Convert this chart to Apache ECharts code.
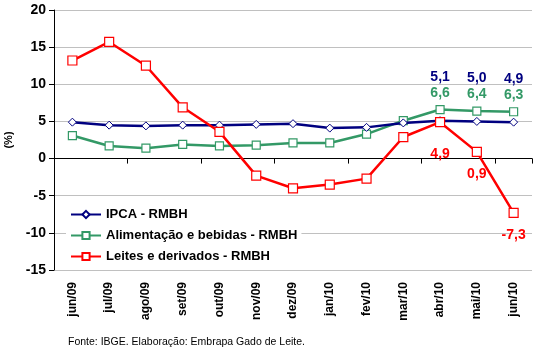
<!DOCTYPE html>
<html>
<head>
<meta charset="utf-8">
<script src="https://cdn.jsdelivr.net/npm/echarts@6/dist/echarts.min.js"></script>
<style>
  html, body { margin: 0; padding: 0; background: #fff; }
  #chart { width: 537px; height: 351px; }
</style>
</head>
<body>
<div id="chart"></div>
<script>
// meses
const categories = ['jun/09', 'jul/09', 'ago/09', 'set/09', 'out/09', 'nov/09', 'dez/09',
  'jan/10', 'fev/10', 'mar/10', 'abr/10', 'mai/10', 'jun/10'];

// valores (%)
const ipca = [4.9, 4.5, 4.4, 4.5, 4.5, 4.6, 4.7, 4.1, 4.2, 4.8, 5.1, 5.0, 4.9];
const alimentacao = [3.1, 1.7, 1.4, 1.9, 1.7, 1.8, 2.1, 2.1, 3.3, 5.1, 6.6, 6.4, 6.3];
const leites = [13.2, 15.7, 12.5, 6.9, 3.6, -2.3, -4.0, -3.5, -2.7, 2.9, 4.9, 0.9, -7.3];

const yTicks = [-15, -10, -5, 0, 5, 10, 15, 20];

const fmt = p => p.value.toFixed(1).replace('.', ',');
const font = 'Liberation Sans, Arial, sans-serif';

// rótulos só nos três últimos meses
function withLabels(values, color, position, distances) {
  const n = values.length;
  return values.map((v, i) => {
    const k = i - (n - 3);
    if (k < 0) return v;
    return {
      value: v,
      label: {
        show: true, position: position, distance: distances[k],
        formatter: fmt, color: color, fontSize: 14, fontWeight: 'bold', fontFamily: font
      }
    };
  });
}

const chart = echarts.init(document.getElementById('chart'));

const option = {
  animation: false,
  textStyle: { fontFamily: font },
  grid: { left: 54, right: 5, top: 10, bottom: 81, outerBoundsMode: 'none' },
  legend: {
    orient: 'vertical',
    left: 66,
    top: 206,
    backgroundColor: '#fff',
    padding: [2, 4],
    itemWidth: 30,
    itemHeight: 9,
    itemGap: 8,
    textStyle: { fontSize: 13, fontWeight: 'bold', color: '#000', fontFamily: font },
    data: ['IPCA - RMBH', 'Alimentação e bebidas - RMBH', 'Leites e derivados - RMBH']
  },
  xAxis: [
    {
      type: 'category',
      data: categories,
      position: 'bottom',
      axisLine: { show: false, onZero: false },
      axisTick: { show: false },
      axisLabel: { rotate: 90, margin: 12, fontSize: 12, fontWeight: 'bold', color: '#000', fontFamily: font }
    },
    {
      type: 'category',
      data: categories,
      position: 'bottom',
      axisLine: { show: true, onZero: true, lineStyle: { color: '#000', width: 1 } },
      axisTick: { show: true, length: 5, lineStyle: { color: '#000' } },
      axisLabel: { show: false }
    }
  ],
  yAxis: {
    type: 'value',
    min: -15,
    max: 20,
    interval: 5,
    name: '(%)',
    nameLocation: 'middle',
    nameGap: 39,
    nameRotate: 90,
    nameTextStyle: { fontSize: 11, fontWeight: 'bold', color: '#000', fontFamily: font },
    axisLine: { show: true, lineStyle: { color: '#000' } },
    axisTick: { show: true, length: 5, lineStyle: { color: '#000' } },
    axisLabel: {
      fontSize: 14, fontWeight: 'bold', color: '#000', margin: 8, fontFamily: font,
      formatter: v => yTicks.includes(v) ? String(v) : ''
    },
    splitLine: { show: true, lineStyle: { color: '#c0c0c0', width: 1 } }
  },
  series: [
    {
      name: 'IPCA - RMBH',
      type: 'line',
      xAxisIndex: 0,
      data: withLabels(ipca, '#000080', 'top', [32, 32, 32]),
      color: '#000080',
      lineStyle: { width: 2.5, color: '#000080' },
      symbol: 'diamond',
      symbolSize: 8,
      itemStyle: { color: '#fff', borderColor: '#000080', borderWidth: 1 },
      z: 3
    },
    {
      name: 'Alimentação e bebidas - RMBH',
      type: 'line',
      xAxisIndex: 0,
      data: withLabels(alimentacao, '#339966', 'top', [5, 5, 5]),
      color: '#339966',
      lineStyle: { width: 2.5, color: '#339966' },
      symbol: 'rect',
      symbolSize: 8,
      itemStyle: { color: '#fff', borderColor: '#339966', borderWidth: 1.2 },
      z: 2
    },
    {
      name: 'Leites e derivados - RMBH',
      type: 'line',
      xAxisIndex: 0,
      data: withLabels(leites, '#ff0000', 'bottom', [20, 10, 10]),
      color: '#ff0000',
      lineStyle: { width: 2.5, color: '#ff0000' },
      symbol: 'rect',
      symbolSize: 9,
      itemStyle: { color: '#fff', borderColor: '#ff0000', borderWidth: 1.2 },
      z: 4
    }
  ],
  graphic: [
    {
      type: 'text',
      left: 68,
      top: 337,
      style: {
        text: 'Fonte: IBGE. Elaboração: Embrapa Gado de Leite.',
        fontSize: 10.5, fill: '#000', fontFamily: font
      }
    }
  ]
};

chart.setOption(option);
</script>
</body>
</html>
